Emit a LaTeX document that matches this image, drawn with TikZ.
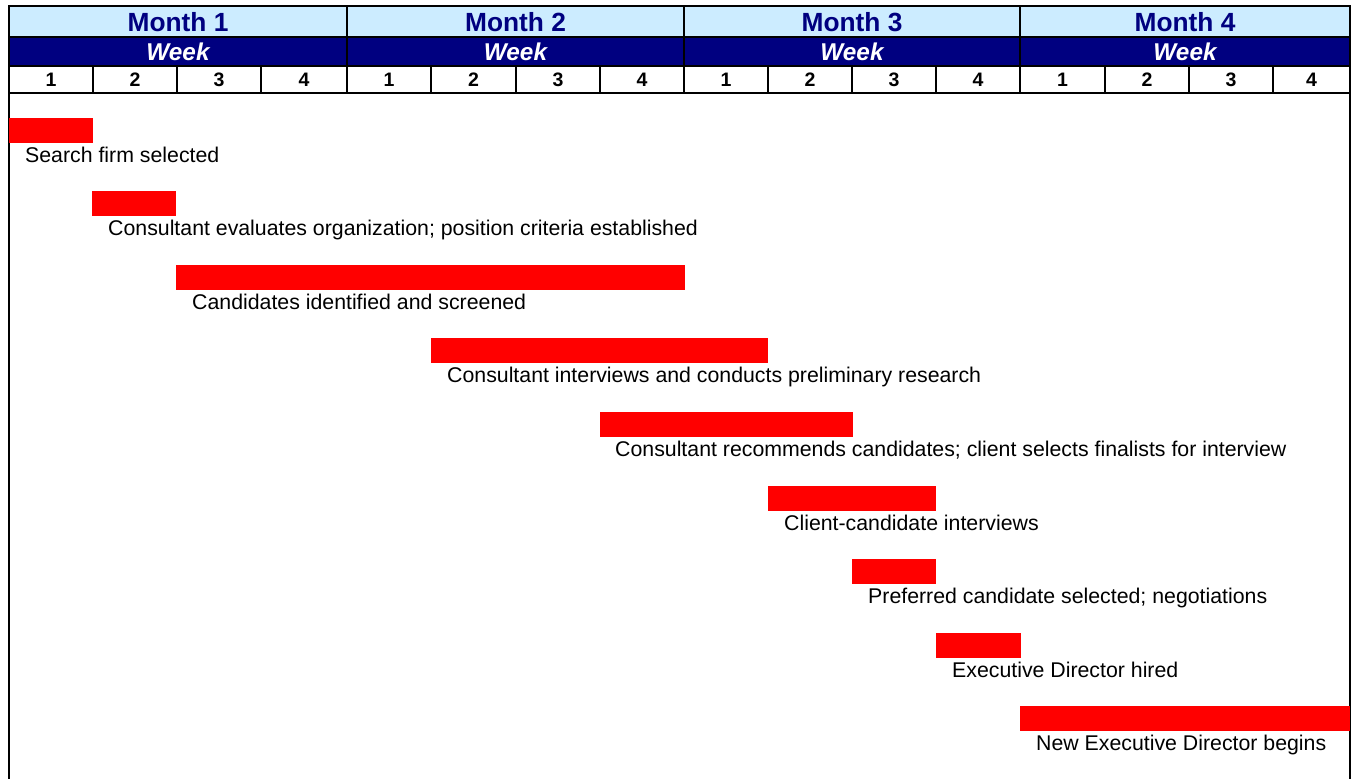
\documentclass[tikz,border=0pt]{standalone}
\usepackage{fontspec}
\setmainfont{Liberation Sans}
\definecolor{navyblue}{HTML}{000080}
\definecolor{paleblue}{HTML}{CCECFF}
\definecolor{barred}{HTML}{FF0000}
\begin{document}
\begin{tikzpicture}[x=1pt,y=-1pt,
  gridline/.style={line width=2pt, line cap=rect},
  taskbar/.style={fill=barred, draw=none, inner sep=0pt, outer sep=0pt, anchor=north west, minimum height=25pt},
  tasklabel/.style={anchor=base west, inner sep=0pt, font=\fontsize{21.3}{25}\selectfont},
  monthlabel/.style={inner sep=0pt, text=navyblue, font=\fontsize{26.3}{31}\selectfont\bfseries},
  weeklabel/.style={inner sep=0pt, text=white, font=\fontsize{24.3}{29}\selectfont\bfseries\itshape},
  numlabel/.style={inner sep=0pt, font=\fontsize{19.5}{23}\selectfont\bfseries}]
\useasboundingbox (0,0) rectangle (1353,779);
\fill[white] (0,0) rectangle (1353,779);
% header fills
\fill[paleblue] (9,6) rectangle (1350,37);
\fill[navyblue] (9,37) rectangle (1350,66);
% frame and grid
\draw[gridline] (9,779) -- (9,6) -- (1350,6) -- (1350,779);
\foreach \yy in {37,66,93} \draw[gridline] (9,\yy) -- (1350,\yy);
\foreach \xx in {347,684,1020} \draw[gridline] (\xx,6) -- (\xx,93);
\foreach \xx in {93,177,261,431,516,600,768,852,936,1105,1189,1273} \draw[gridline] (\xx,66) -- (\xx,93);
% month and week labels
\foreach \n/\xa/\xb in {1/9/347,2/347/684,3/684/1020,4/1020/1350}{
  \node[monthlabel] (month\n) at ({(\xa+\xb)/2},22) {Month \n};
  \node[weeklabel] (week\n) at ({(\xa+\xb)/2},52) {Week};
}
% week numbers
\foreach \k/\xa/\xb/\lab in {1/9/93/1,2/93/177/2,3/177/261/3,4/261/347/4,
  5/347/431/1,6/431/516/2,7/516/600/3,8/600/684/4,
  9/684/768/1,10/768/852/2,11/852/936/3,12/936/1020/4,
  13/1020/1105/1,14/1105/1189/2,15/1189/1273/3,16/1273/1350/4}{
  \node[numlabel] (num\k) at ({(\xa+\xb)/2},80) {\lab};
}
% tasks
\node[taskbar, minimum width=84pt] (bar1) at (9,118) {};
\node[tasklabel] (task1) at (25,162) {Search firm selected};
\node[taskbar, minimum width=84pt] (bar2) at (92,191) {};
\node[tasklabel] (task2) at (108,235) {Consultant evaluates organization; position criteria established};
\node[taskbar, minimum width=509pt] (bar3) at (176,265) {};
\node[tasklabel] (task3) at (192,309) {Candidates identified and screened};
\node[taskbar, minimum width=337pt] (bar4) at (431,338) {};
\node[tasklabel] (task4) at (447,382) {Consultant interviews and conducts preliminary research};
\node[taskbar, minimum width=253pt] (bar5) at (600,412) {};
\node[tasklabel] (task5) at (615,456) {Consultant recommends candidates; client selects finalists for interview};
\node[taskbar, minimum width=168pt] (bar6) at (768,486) {};
\node[tasklabel] (task6) at (784,530) {Client-candidate interviews};
\node[taskbar, minimum width=84pt] (bar7) at (852,559) {};
\node[tasklabel] (task7) at (868,603) {Preferred candidate selected; negotiations};
\node[taskbar, minimum width=85pt] (bar8) at (936,633) {};
\node[tasklabel] (task8) at (952,677) {Executive Director hired};
\node[taskbar, minimum width=330pt] (bar9) at (1020,706) {};
\node[tasklabel] (task9) at (1036,750) {New Executive Director begins};
\end{tikzpicture}
\end{document}
